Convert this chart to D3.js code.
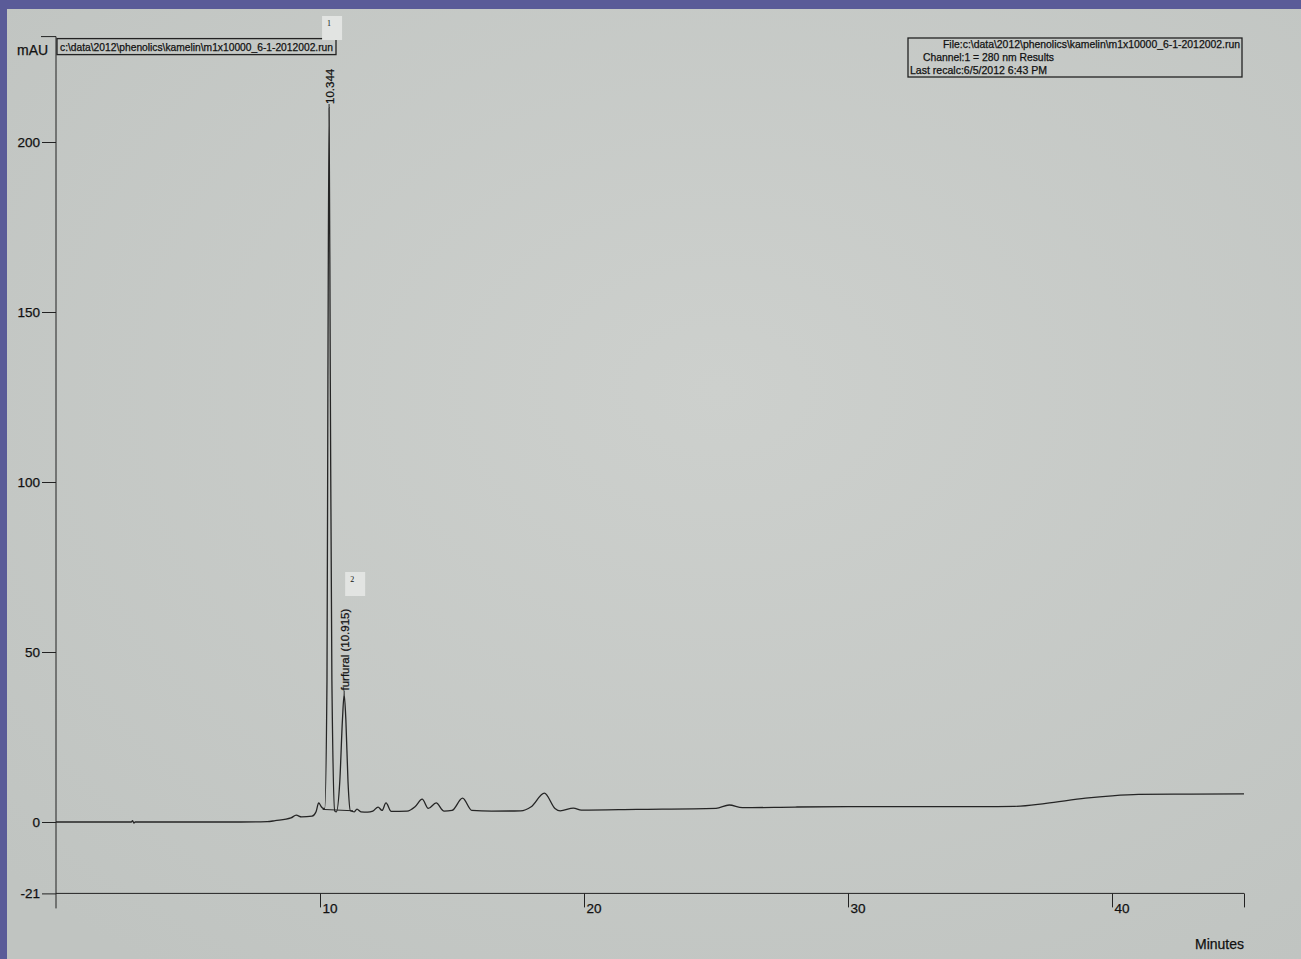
<!DOCTYPE html>
<html>
<head>
<meta charset="utf-8">
<script src="https://cdn.jsdelivr.net/npm/d3@7"></script>
<style>
  html, body { margin: 0; padding: 0; background: #5a5b98; }
  svg { display: block; }
  text { font-family: "Liberation Sans", Arial, sans-serif; fill: #111; stroke: #111; stroke-width: 0.25px; }
</style>
</head>
<body>
<svg id="chart"></svg>
<script>
// trace: minutes, mAU
const traceTime = [0, 2.85, 2.9, 2.95, 3.0, 7.0, 8.0, 8.3, 8.9, 9.1, 9.3, 9.7, 9.85, 9.95, 10.05, 10.12,
    10.18, 10.265, 10.30, 10.344, 10.39, 10.45, 10.56,
    10.62, 10.75, 10.85, 10.915, 10.98, 11.06, 11.15,
    11.3, 11.4, 11.55, 11.8, 12.0, 12.2, 12.35, 12.5, 12.7, 13.3, 13.6, 13.87, 14.1, 14.4, 14.7,
    15.0, 15.4, 15.75, 16.5, 17.6, 18.0, 18.5, 18.9, 19.1, 19.6, 19.9, 22, 25.0, 25.5, 26.0,
    28, 30, 33, 35, 36.3, 37.5, 39.0, 40.0, 41.0, 43, 45];
const traceValue = [0, 0, 0.4, -0.3, 0, 0, 0.1, 0.4, 1.2, 2.0, 1.5, 1.7, 3.0, 5.6, 4.5, 4.0,
    4.0, 42, 130, 210, 130, 42, 3.2,
    3.0, 12, 30, 37.5, 30, 12, 3.3,
    3.0, 3.8, 3.0, 2.9, 3.2, 4.4, 3.4, 5.6, 3.1, 3.2, 4.5, 6.7, 4.0, 5.6, 3.2,
    3.4, 7.0, 3.4, 3.2, 3.3, 4.5, 8.5, 4.0, 3.3, 4.1, 3.5, 3.7, 4.0, 5.0, 4.2,
    4.4, 4.5, 4.5, 4.5, 4.6, 5.5, 7.0, 7.7, 8.1, 8.2, 8.3];

// integration baseline under the two named peaks
const baseTime = [10.1, 11.25];
const baseValue = [3.7, 3.3];

const peakNumber = ["1", "2"];
const peakTime = [10.344, 10.915];
const peakValue = [210, 37.5];
const peakText = ["10.344", "furfural (10.915)"];

const yTicks = [-21, 0, 50, 100, 150, 200];
const xTicks = [10, 20, 30, 40, 45];
const xTickLabels = ["10", "20", "30", "40", ""];

const fileName = "c:\\data\\2012\\phenolics\\kamelin\\m1x10000_6-1-2012002.run";
const infoLines = ["File:c:\\data\\2012\\phenolics\\kamelin\\m1x10000_6-1-2012002.run",
    "Channel:1 = 280 nm Results",
    "Last recalc:6/5/2012 6:43 PM"];

const W = 1301, H = 959;
const svg = d3.select("#chart").attr("width", W).attr("height", H);

// paper
const defs = svg.append("defs");
const grad = defs.append("radialGradient").attr("id", "paper")
    .attr("cx", "55%").attr("cy", "40%").attr("r", "75%");
grad.append("stop").attr("offset", "0%").attr("stop-color", "#cdd0cd");
grad.append("stop").attr("offset", "100%").attr("stop-color", "#c0c4c1");
svg.append("rect").attr("x", 7).attr("y", 9).attr("width", W - 7).attr("height", H - 9)
    .attr("fill", "url(#paper)");

// scales
const x = d3.scaleLinear().domain([0, 45]).range([56, 1244]);
const y = d3.scaleLinear().domain([0, 200]).range([822, 142]);
const yTop = 231;

const ink = "#222";
const g = svg.append("g");

// y axis
const yAxis = g.append("g").attr("transform", `translate(${x(0)},0)`)
    .call(d3.axisLeft(y).tickValues(yTicks).tickSize(14).tickPadding(2).tickFormat(d => String(d)));
yAxis.select(".domain").remove();
yAxis.selectAll("line").attr("stroke", ink);
yAxis.selectAll("text").style("font-size", "13.5px").attr("fill", "#111")
    .attr("font-family", "Liberation Sans, Arial, sans-serif");

// x axis
const xAxis = g.append("g").attr("transform", `translate(0,${y(-21)})`)
    .call(d3.axisBottom(x).tickValues(xTicks).tickSize(14)
        .tickFormat((d, i) => xTickLabels[i]));
xAxis.select(".domain").remove();
xAxis.selectAll("line").attr("stroke", ink);
xAxis.selectAll("text").style("font-size", "13.5px").attr("fill", "#111")
    .attr("font-family", "Liberation Sans, Arial, sans-serif")
    .attr("text-anchor", "start").attr("x", 2).attr("y", 20).attr("dy", null);

// axis lines
g.append("line").attr("x1", x(0)).attr("x2", x(0))
    .attr("y1", y(yTop)).attr("y2", y(-21) + 15).attr("stroke", ink);
g.append("line").attr("x1", x(0) - 15).attr("x2", x(0))
    .attr("y1", y(yTop)).attr("y2", y(yTop)).attr("stroke", ink);
g.append("line").attr("x1", x(0)).attr("x2", x(45))
    .attr("y1", y(-21)).attr("y2", y(-21)).attr("stroke", ink);

g.append("text").attr("x", 17).attr("y", y(yTop) + 18).style("font-size", "14px").text("mAU");
g.append("text").attr("x", x(45)).attr("y", 949).attr("text-anchor", "end")
    .style("font-size", "14px").text("Minutes");

// file label box by the axis top
const fb = g.append("g");
fb.append("rect").attr("x", x(0) + 1).attr("y", y(yTop) + 2).attr("width", 279).attr("height", 16)
    .attr("fill", "none").attr("stroke", ink).attr("stroke-width", 1.3);
fb.append("text").attr("x", x(0) + 4).attr("y", y(yTop) + 14).style("font-size", "10.5px")
    .attr("textLength", 273).attr("lengthAdjust", "spacingAndGlyphs").text(fileName);

// info box top right
const ib = g.append("g");
ib.append("rect").attr("x", 908).attr("y", 38).attr("width", 334).attr("height", 39)
    .attr("fill", "none").attr("stroke", ink).attr("stroke-width", 1.3);
const infoX = [943, 923, 910];
const infoLen = [297, 131, 137];
infoLines.forEach((t, i) => {
    ib.append("text").attr("x", infoX[i]).attr("y", 48 + i * 13).style("font-size", "10.5px")
        .attr("textLength", infoLen[i]).attr("lengthAdjust", "spacingAndGlyphs").text(t);
});

// trace
const trace = traceTime.map((t, i) => [t, traceValue[i]]);
const line = d3.line().x(d => x(d[0])).y(d => y(d[1])).curve(d3.curveMonotoneX);
g.append("path").datum(trace).attr("d", line)
    .attr("fill", "none").attr("stroke", "#252525").attr("stroke-width", 1.3);

const base = baseTime.map((t, i) => [t, baseValue[i]]);
g.append("path").datum(base).attr("d", d3.line().x(d => x(d[0])).y(d => y(d[1])))
    .attr("fill", "none").attr("stroke", "#252525").attr("stroke-width", 1);

// peak labels
const boxTop = [16, 572];
peakTime.forEach((t, i) => {
    const px = x(t), py = y(peakValue[i]);
    g.append("line").attr("x1", px).attr("x2", px).attr("y1", py).attr("y2", py - 4)
        .attr("stroke", "#252525");
    g.append("text").attr("transform", `translate(${px + 4.5},${py - 4}) rotate(-90)`)
        .style("font-size", "11.5px").text(peakText[i]);
    const bx = i === 0 ? px - 7 : px + 1;
    g.append("rect").attr("x", bx).attr("y", boxTop[i]).attr("width", 20).attr("height", 24)
        .attr("fill", "#e2e4e2");
    g.append("text").attr("x", bx + 5).attr("y", boxTop[i] + 10).style("stroke-width", 0)
        .style("font-size", "8px").style("font-family", "Liberation Serif, serif").text(peakNumber[i]);
});
</script>
</body>
</html>
